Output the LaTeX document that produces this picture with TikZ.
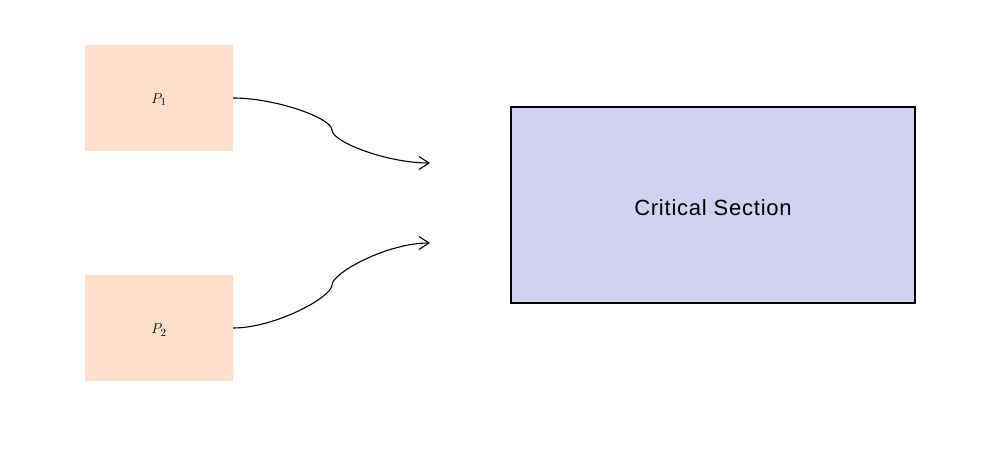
\documentclass[tikz,border=0pt]{standalone}
\usepackage{fontspec}
\setsansfont{Liberation Sans}
\usetikzlibrary{arrows.meta}
\definecolor{pfill}{RGB}{255,224,204}
\definecolor{csfill}{RGB}{209,209,240}
\tikzset{
  procbox/.style={fill=pfill, draw=none, minimum width=148pt, minimum height=106pt, inner sep=0pt, font=\fontsize{15}{18}\selectfont},
  csbox/.style={fill=csfill, draw=black, line width=1.1pt, minimum width=404pt, minimum height=196pt, inner sep=0pt, font=\sffamily\fontsize{22}{26}\selectfont\addfontfeatures{LetterSpace=3.5}},
  conn/.style={line width=1.1pt, -{Straight Barb[length=10pt,width=13pt,line width=1.1pt]}}
}
\begin{document}
\begin{tikzpicture}[x=1pt,y=-1pt]
\useasboundingbox (0,0) rectangle (995,470);
\node[procbox] (p1) at (159,98) {\raisebox{-2pt}[\height][\depth]{$P_{1}$}};
\node[procbox] (p2) at (159,328) {\raisebox{-2pt}[\height][\depth]{$P_{2}$}};
\node[csbox] (cs) at (713,205) {\raisebox{-2.5pt}[\height][\depth]{Critical Section}};
\coordinate (m1) at (332,130);
\coordinate (e1) at (430,163);
\coordinate (m2) at (332,285);
\coordinate (e2) at (430,243);
\draw[conn] (p1.east) .. controls +(42,0) and +(0,-12) .. (m1)
                      .. controls +(0,12) and +(-43,0) .. (e1);
\draw[conn] (p2.east) .. controls +(42,0) and +(0,12) .. (m2)
                      .. controls +(0,-12) and +(-43,0) .. (e2);
\end{tikzpicture}
\end{document}
